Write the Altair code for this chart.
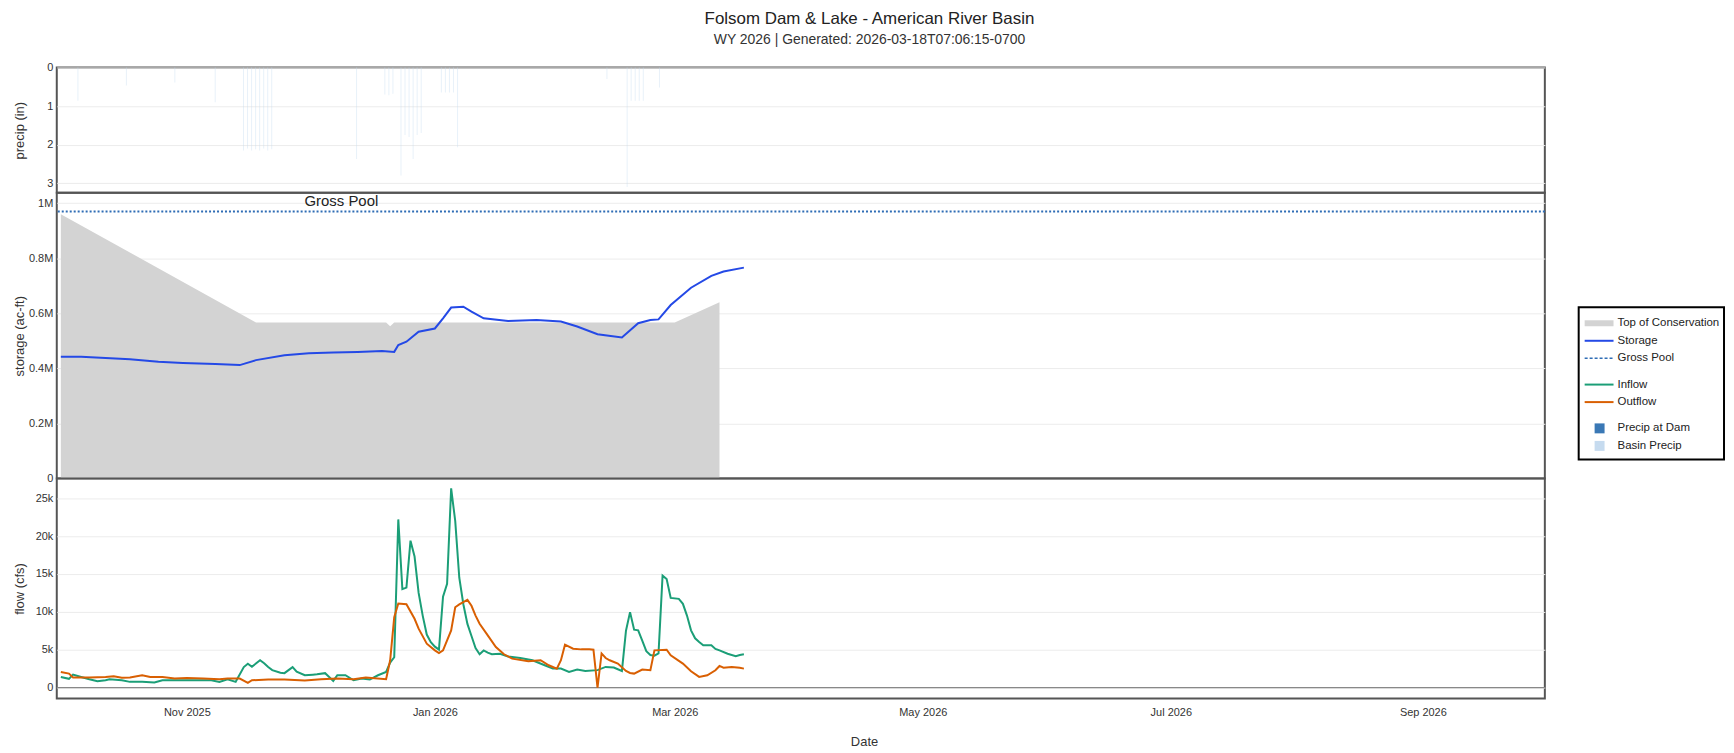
import altair as alt
import pandas as pd

# ---------------- data ----------------
TITLE = "Folsom Dam & Lake - American River Basin"
SUBTITLE = "WY 2026 | Generated: 2026-03-18T07:06:15-0700"

GROSS_POOL = 970000
GROSS_POOL_LABEL = "Gross Pool"
GROSS_POOL_LABEL_DATE = "2025-12-09"

precip_dates = [
    "2025-10-04", "2025-10-16", "2025-10-28", "2025-11-07",
    "2025-11-14", "2025-11-15", "2025-11-16", "2025-11-17",
    "2025-11-18", "2025-11-19", "2025-11-20", "2025-11-21",
    "2025-12-12", "2025-12-19", "2025-12-20", "2025-12-21", "2025-12-23",
    "2025-12-24", "2025-12-25", "2025-12-26", "2025-12-27", "2025-12-28",
    "2026-01-02", "2026-01-03", "2026-01-04", "2026-01-05", "2026-01-06",
    "2026-02-12", "2026-02-17", "2026-02-18", "2026-02-19", "2026-02-20",
    "2026-02-21", "2026-02-25",
]
basin_precip_in = [
    0.86, 0.47, 0.39, 0.90,
    2.15, 2.10, 2.15, 2.12, 2.15, 2.10, 2.15, 2.12,
    2.37, 0.70, 0.72, 0.68, 2.80, 1.75, 1.80, 2.37, 1.75, 1.70,
    0.65, 0.65, 0.65, 0.65, 2.07,
    0.30, 3.10, 0.86, 0.86, 0.86, 0.86, 0.52,
]

toc_dates = ["2025-10-01", "2025-11-18", "2025-12-20", "2025-12-21",
             "2025-12-22", "2026-03-01", "2026-03-12"]
toc_af = [960000, 567000, 567000, 553000, 567000, 567000, 640000]

storage_dates = [
    "2025-10-01", "2025-10-06", "2025-10-18", "2025-10-25", "2025-10-31",
    "2025-11-08", "2025-11-14", "2025-11-18", "2025-11-25", "2025-12-01",
    "2025-12-07", "2025-12-13", "2025-12-19", "2025-12-22", "2025-12-23",
    "2025-12-25", "2025-12-28", "2026-01-01", "2026-01-03", "2026-01-05",
    "2026-01-08", "2026-01-10", "2026-01-13", "2026-01-19", "2026-01-26",
    "2026-02-01", "2026-02-05", "2026-02-10", "2026-02-16", "2026-02-20",
    "2026-02-23", "2026-02-25", "2026-02-28", "2026-03-05", "2026-03-10",
    "2026-03-13", "2026-03-18",
]
storage_af = [
    442000, 442000, 433000, 424000, 420000,
    416000, 412000, 430000, 448000, 455000,
    458000, 460000, 463000, 460000, 485000,
    497000, 533000, 545000, 582000, 621000,
    624000, 606000, 582000, 572000, 576000,
    570000, 552000, 524000, 512000, 564000,
    576000, 578000, 630000, 693000, 736000,
    752000, 766000,
]

inflow_dates = [
    "2025-10-01", "2025-10-03", "2025-10-04", "2025-10-06", "2025-10-08",
    "2025-10-10", "2025-10-12", "2025-10-13", "2025-10-16", "2025-10-18",
    "2025-10-21", "2025-10-24", "2025-10-26", "2025-10-29", "2025-11-01",
    "2025-11-03", "2025-11-07", "2025-11-09", "2025-11-11", "2025-11-13",
    "2025-11-15", "2025-11-16", "2025-11-17", "2025-11-19", "2025-11-20",
    "2025-11-21", "2025-11-22", "2025-11-24", "2025-11-25", "2025-11-27",
    "2025-11-28", "2025-11-30", "2025-12-02", "2025-12-03", "2025-12-05",
    "2025-12-06", "2025-12-07", "2025-12-08", "2025-12-10", "2025-12-12",
    "2025-12-14", "2025-12-16", "2025-12-18", "2025-12-20", "2025-12-21",
    "2025-12-22", "2025-12-23", "2025-12-24", "2025-12-25", "2025-12-26",
    "2025-12-27", "2025-12-28", "2025-12-29", "2025-12-30", "2025-12-31",
    "2026-01-01", "2026-01-02", "2026-01-03", "2026-01-04", "2026-01-05",
    "2026-01-06", "2026-01-07", "2026-01-08", "2026-01-09", "2026-01-10",
    "2026-01-11", "2026-01-12", "2026-01-13", "2026-01-14", "2026-01-15",
    "2026-01-17", "2026-01-19", "2026-01-22", "2026-01-25", "2026-01-28",
    "2026-01-30", "2026-02-01", "2026-02-03", "2026-02-05", "2026-02-07",
    "2026-02-10", "2026-02-12", "2026-02-14", "2026-02-16", "2026-02-17",
    "2026-02-18", "2026-02-19", "2026-02-20", "2026-02-21", "2026-02-22",
    "2026-02-23", "2026-02-24", "2026-02-25", "2026-02-26", "2026-02-27",
    "2026-02-28", "2026-03-02", "2026-03-03", "2026-03-04", "2026-03-05",
    "2026-03-06", "2026-03-07", "2026-03-08", "2026-03-10", "2026-03-11",
    "2026-03-12", "2026-03-14", "2026-03-16", "2026-03-17", "2026-03-18",
]
inflow_cfs = [
    1400, 1150, 1700, 1400, 1100,
    830, 960, 1100, 960, 750,
    750, 660, 960, 950, 950,
    960, 950, 750, 1100, 750,
    2700, 3150, 2750, 3600, 3200,
    2700, 2300, 1950, 1900, 2700,
    2100, 1620, 1700, 1750, 1900,
    1400, 880, 1620, 1620, 960,
    1180, 1050, 1620, 2060, 3300,
    4000, 22200, 13000, 13200, 19400,
    17300, 12500, 9500, 7000, 6000,
    5400, 5000, 12000, 13700, 26300,
    22000, 14500, 11000, 8400, 6800,
    5200, 4400, 4900, 4600, 4400,
    4470, 4100, 3900, 3600, 2940,
    2500, 2500, 2060, 2370, 2190,
    2300, 2720, 2650, 2190, 7500,
    9960, 7650, 7550, 6200, 4800,
    4300, 4200, 4500, 14780, 14340,
    11840, 11710, 11050, 9500, 7550,
    6500, 6000, 5570, 5570, 5100,
    4900, 4470, 4150, 4300, 4390,
]

outflow_dates = [
    "2025-10-01", "2025-10-03", "2025-10-04", "2025-10-08", "2025-10-12",
    "2025-10-14", "2025-10-16", "2025-10-18", "2025-10-21", "2025-10-23",
    "2025-10-26", "2025-10-29", "2025-11-01", "2025-11-05", "2025-11-09",
    "2025-11-11", "2025-11-14", "2025-11-16", "2025-11-17", "2025-11-21",
    "2025-11-25", "2025-11-30", "2025-12-04", "2025-12-08", "2025-12-12",
    "2025-12-15", "2025-12-20", "2025-12-21", "2025-12-22", "2025-12-23",
    "2025-12-25", "2025-12-27", "2025-12-28", "2025-12-30", "2026-01-01",
    "2026-01-02", "2026-01-03", "2026-01-05", "2026-01-06", "2026-01-07",
    "2026-01-09", "2026-01-10", "2026-01-11", "2026-01-12", "2026-01-14",
    "2026-01-16", "2026-01-18", "2026-01-20", "2026-01-24", "2026-01-27",
    "2026-01-29", "2026-01-31", "2026-02-01", "2026-02-02", "2026-02-04",
    "2026-02-06", "2026-02-08", "2026-02-09", "2026-02-10", "2026-02-11",
    "2026-02-12", "2026-02-13", "2026-02-15", "2026-02-17", "2026-02-18",
    "2026-02-19", "2026-02-21", "2026-02-23", "2026-02-24", "2026-02-27",
    "2026-02-28", "2026-03-03", "2026-03-05", "2026-03-07", "2026-03-09",
    "2026-03-11", "2026-03-12", "2026-03-13", "2026-03-15", "2026-03-17",
    "2026-03-18",
]
outflow_cfs = [
    2060, 1840, 1320, 1320, 1400,
    1490, 1300, 1320, 1620, 1400,
    1400, 1180, 1250, 1180, 1100,
    1180, 1180, 610, 960, 1050,
    1050, 920, 1100, 1180, 1100,
    1320, 1100, 3600, 9300, 11100,
    11000, 9080, 7770, 5790, 4910,
    4560, 4900, 7550, 10600, 10970,
    11580, 10800, 9500, 8420, 6890,
    5350, 4390, 3820, 3470, 3600,
    2940, 2500, 3600, 5660, 5130,
    5040, 5040, 5000, 0, 4500,
    3900, 3600, 3160, 2190, 1930,
    1840, 2370, 2300, 4910, 5000,
    4250, 3160, 2150, 1400, 1620,
    2280, 2850, 2630, 2720, 2600,
    2500,
]

x_tick_dates = [(2025, 11), (2026, 1), (2026, 3), (2026, 5), (2026, 7), (2026, 9)]

legend_groups = [
    ["Top of Conservation", "Storage", "Gross Pool"],
    ["Inflow", "Outflow"],
    ["Precip at Dam", "Basin Precip"],
]

# ---------------- styles ----------------
FONT = "Liberation Sans"
TOC_C = "#d3d3d3"
STORAGE_C = "#2449e6"
GP_C = "#2f6db5"
INFLOW_C = "#1b9e77"
OUTFLOW_C = "#d95f02"
DAM_P_C = "#3a78b5"
BASIN_P_C = "#c6dbef"

W = 1495
H_PRECIP, H_STORAGE, H_FLOW = 126, 287, 221

x_scale = alt.Scale(
    type="utc",
    domain=[alt.DateTime(year=2025, month=9, date=30, utc=True),
            alt.DateTime(year=2026, month=10, date=1, utc=True)],
    nice=False,
)
x_noaxis = alt.X("date:T", scale=x_scale, axis=None)
x_axis = alt.X(
    "date:T", scale=x_scale,
    axis=alt.Axis(
        values=[alt.DateTime(year=y, month=m, date=1, utc=True) for y, m in x_tick_dates],
        format="%b %Y", labelFontSize=11, labelPadding=8, grid=False,
        ticks=False, domain=False, title="Date", titleX=811, titleY=43,
        titleBaseline="middle", titleAlign="center", titleFontSize=13,
    ),
)

# ---------------- precip panel ----------------
precip_df = pd.DataFrame({"date": precip_dates, "precip": basin_precip_in})
precip = alt.Chart(precip_df).mark_bar(width=1, color=BASIN_P_C, opacity=0.4).encode(
    x=x_noaxis,
    y=alt.Y("precip:Q", scale=alt.Scale(domain=[0, 3.25], reverse=True, nice=False, zero=False),
            axis=alt.Axis(values=[0, 1, 2, 3], title="precip (in)")),
).properties(width=W, height=H_PRECIP)

# ---------------- storage panel ----------------
y_storage = alt.Y(
    "af:Q", scale=alt.Scale(domain=[0, 1037500], nice=False),
    axis=alt.Axis(values=[0, 200000, 400000, 600000, 800000, 1000000],
                  labelExpr="datum.value == 0 ? '0' : format(datum.value / 1e6, '.1~f') + 'M'",
                  title="storage (ac-ft)"),
)
toc_df = pd.DataFrame({"date": toc_dates, "af": toc_af})
storage_df = pd.DataFrame({"date": storage_dates, "af": storage_af})
gp_df = pd.DataFrame({"af": [GROSS_POOL]})
gp_text_df = pd.DataFrame({"date": [GROSS_POOL_LABEL_DATE], "af": [GROSS_POOL], "t": [GROSS_POOL_LABEL]})

toc_layer = alt.Chart(toc_df).mark_area(color=TOC_C).encode(x=x_noaxis, y=y_storage)
gp_layer = alt.Chart(gp_df).mark_rule(color=GP_C, strokeDash=[2, 2], strokeWidth=2).encode(y=y_storage)
gp_text = alt.Chart(gp_text_df).mark_text(fontSize=15, baseline="bottom", dy=-2, color="#222").encode(
    x=x_noaxis, y=y_storage, text="t:N")
storage_line = alt.Chart(storage_df).mark_line(color=STORAGE_C, strokeWidth=2).encode(x=x_noaxis, y=y_storage)

storage = alt.layer(toc_layer, gp_layer, gp_text, storage_line).properties(width=W, height=H_STORAGE)

# ---------------- flow panel ----------------
y_flow = alt.Y(
    "cfs:Q", scale=alt.Scale(domain=[-1450, 27600], nice=False, zero=False),
    axis=alt.Axis(values=[0, 5000, 10000, 15000, 20000, 25000],
                  labelExpr="datum.value == 0 ? '0' : format(datum.value / 1000, 'd') + 'k'",
                  title="flow (cfs)"),
)
inflow_df = pd.DataFrame({"date": inflow_dates, "cfs": inflow_cfs})
outflow_df = pd.DataFrame({"date": outflow_dates, "cfs": outflow_cfs})
zero_df = pd.DataFrame({"cfs": [0]})

zero_rule = alt.Chart(zero_df).mark_rule(color="#888", strokeWidth=1.2).encode(y=y_flow)
inflow_line = alt.Chart(inflow_df).mark_line(color=INFLOW_C, strokeWidth=2).encode(x=x_axis, y=y_flow)
outflow_line = alt.Chart(outflow_df).mark_line(color=OUTFLOW_C, strokeWidth=2).encode(x=x_axis, y=y_flow)

flow = alt.layer(zero_rule, inflow_line, outflow_line).properties(width=W, height=H_FLOW)

panels = alt.vconcat(precip, storage, flow, spacing=0, bounds="flush")

# ---------------- legend panel ----------------
rows = []
pos = 0.0
for group in legend_groups:
    for lab in group:
        rows.append({"label": lab, "row": pos})
        pos += 1
    pos += 0.5
last_row = pos - 1.5
legend_df = pd.DataFrame(rows)

LEG_W = 148
LEG_H = 395
ROW_PX = 17.6
FIRST_ROW_PX = 257
d0 = -FIRST_ROW_PX / ROW_PX
d1 = d0 + LEG_H / ROW_PX
leg_scale = alt.Scale(domain=[d0, d1], reverse=True, nice=False, zero=False)
leg_y = alt.Y("row:Q", scale=leg_scale, axis=None)

line_styles = {
    "Top of Conservation": dict(color=TOC_C, strokeWidth=6),
    "Storage": dict(color=STORAGE_C, strokeWidth=2),
    "Gross Pool": dict(color=GP_C, strokeWidth=1.5, strokeDash=[3, 2]),
    "Inflow": dict(color=INFLOW_C, strokeWidth=2),
    "Outflow": dict(color=OUTFLOW_C, strokeWidth=2),
}
square_styles = {"Precip at Dam": DAM_P_C, "Basin Precip": BASIN_P_C}

leg_layers = []
frame_df = pd.DataFrame({"top": [-0.91], "bottom": [last_row + 0.78]})
leg_layers.append(
    alt.Chart(frame_df).mark_rect(fill="white", fillOpacity=0, stroke="black", strokeWidth=2).encode(
        x=alt.value(1), x2=alt.value(LEG_W - 1),
        y=alt.Y("top:Q", scale=leg_scale, axis=None),
        y2="bottom:Q",
    )
)
for lab, st in line_styles.items():
    leg_layers.append(
        alt.Chart(legend_df).transform_filter(alt.datum.label == lab).mark_rule(**st).encode(
            x=alt.value(7), x2=alt.value(36), y=leg_y)
    )
for lab, col in square_styles.items():
    leg_layers.append(
        alt.Chart(legend_df).transform_filter(alt.datum.label == lab).mark_square(
            size=100, color=col, opacity=1).encode(x=alt.value(22), y=leg_y)
    )
leg_layers.append(
    alt.Chart(legend_df).mark_text(align="left", baseline="middle", fontSize=11.5, color="#222").encode(
        x=alt.value(40), y=leg_y, text="label:N")
)
legend = alt.layer(*leg_layers).properties(
    width=LEG_W, height=LEG_H, view=alt.ViewConfig(stroke="transparent"))

chart = alt.hconcat(
    panels, legend, spacing=30,
    title=alt.TitleParams(
        text=TITLE, subtitle=SUBTITLE, anchor="middle", fontSize=17, subtitleFontSize=14,
        font=FONT, subtitleFont=FONT, fontWeight="normal", color="#222",
        subtitleColor="#333", subtitlePadding=5, offset=13,
    ),
).properties(
    padding={"left": 5, "top": 0, "right": 0, "bottom": 0},
).configure(
    font=FONT,
).configure_view(
    stroke="#555", strokeWidth=2,
).configure_axis(
    labelFont=FONT, titleFont=FONT, labelFontSize=11, titleFontSize=13,
    titleFontWeight="normal", labelColor="#333", titleColor="#333",
    gridColor="#ececec", gridWidth=1, domain=False, ticks=False,
).configure_axisY(
    minExtent=26, maxExtent=26, titlePadding=4, labelPadding=4,
)

chart.save("out.html", embed_options={"renderer": "svg", "actions": False})
